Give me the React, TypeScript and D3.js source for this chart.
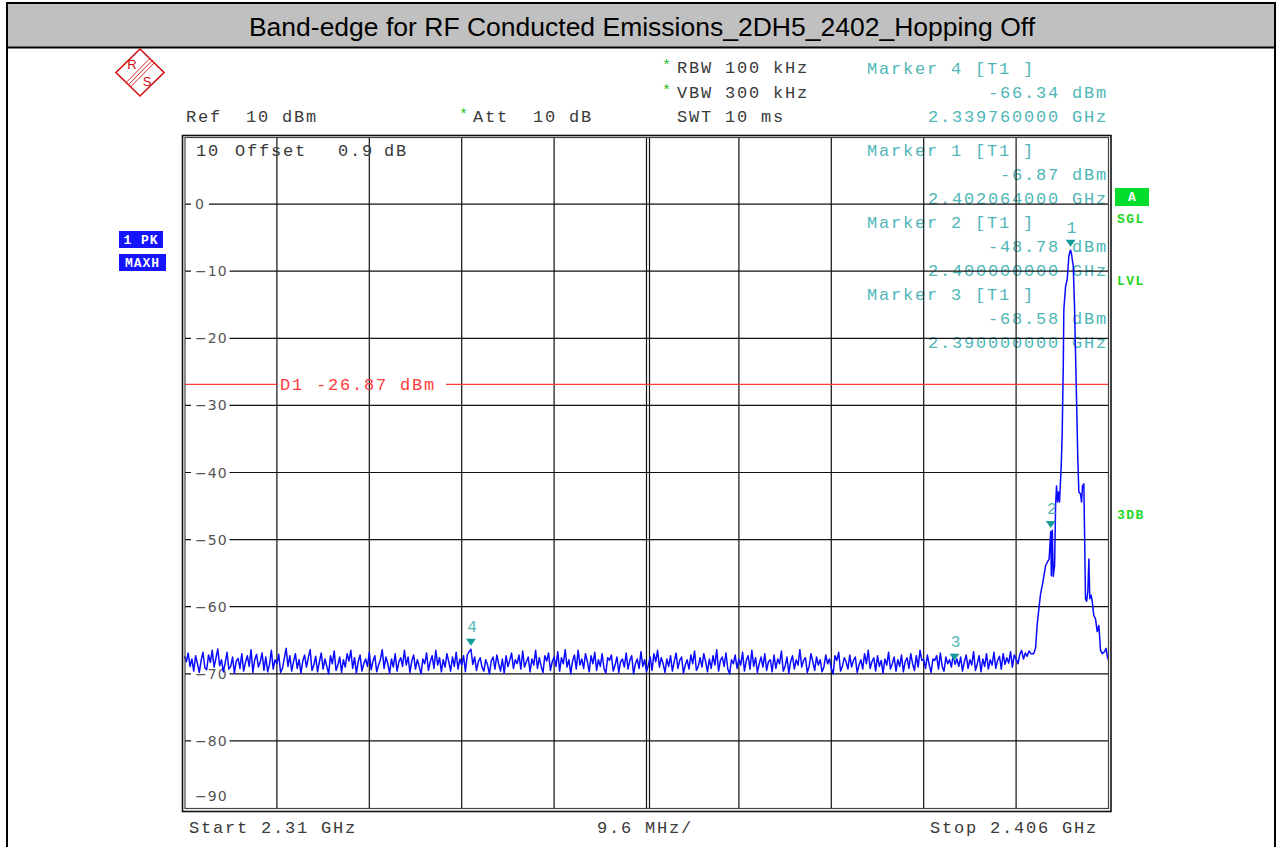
import React from 'react';
import * as d3 from 'd3';

// ---------- data ----------
const titleText = 'Band-edge for RF Conducted Emissions_2DH5_2402_Hopping Off';
const startMHz = 2310;
const stopMHz = 2406;
const divMHz = 9.6;
const refLevel = 10;
const bottomLevel = -90;
const levelTicks = [0, -10, -20, -30, -40, -50, -60, -70, -80];
const displayLine = -26.87;
const sweepStep = 0.192; // MHz between sweep points

// noise floor sweep points (dBm), from 2310 MHz
const noiseLevels = [
  -67.4,-68.2,-66.9,-68.9,-67.8,-69.6,-67.3,-68.5,-69.8,-68.0,-66.8,-69.1,-69.4,-67.2,-68.3,-66.5,-69.0,-67.7,-66.3,-68.8,
  -67.9,-69.7,-68.4,-66.8,-69.3,-68.9,-67.5,-69.9,-68.1,-67.7,-69.2,-67.0,-69.6,-68.3,-67.3,-68.9,-66.4,-69.8,-67.9,-67.1,
  -69.0,-68.2,-66.9,-69.5,-67.5,-69.7,-68.6,-66.5,-69.3,-67.9,-68.5,-67.1,-69.8,-69.2,-67.7,-66.2,-68.9,-67.3,-69.6,-68.2,
  -67.0,-69.2,-67.9,-69.9,-68.1,-67.2,-69.0,-67.6,-66.4,-69.5,-68.7,-67.4,-69.7,-68.2,-66.9,-69.3,-67.8,-68.9,-70.0,-67.3,
  -68.5,-66.6,-69.5,-68.7,-67.5,-69.8,-67.9,-69.0,-67.0,-68.1,-66.5,-69.2,-67.6,-69.9,-68.2,-67.2,-69.6,-68.5,-67.8,-68.9,
  -66.8,-69.4,-68.1,-67.3,-69.7,-68.7,-67.9,-66.4,-69.2,-67.5,-68.5,-69.9,-67.8,-69.0,-67.0,-69.6,-68.2,-67.6,-68.9,-66.5,
  -68.7,-67.5,-69.8,-68.1,-67.2,-69.3,-67.9,-68.9,-70.0,-67.8,-68.5,-66.9,-69.5,-68.2,-67.3,-69.2,-66.5,-68.7,-67.6,-69.7,
  -67.9,-69.0,-67.0,-68.2,-69.6,-67.5,-68.9,-66.8,-69.3,-67.8,-68.7,-67.3,-69.7,-67.2,-66.7,-66.34,-68.6,-67.5,-69.5,-68.2,
  -67.6,-69.0,-69.6,-67.9,-68.7,-70.0,-68.1,-67.5,-69.3,-67.2,-68.5,-69.6,-67.8,-69.9,-67.3,-68.9,-68.0,-66.9,-69.2,-67.9,
  -68.5,-67.2,-69.3,-66.6,-69.0,-68.2,-67.5,-69.7,-67.8,-68.7,-66.5,-69.2,-67.6,-68.9,-69.8,-67.3,-68.1,-66.9,-69.5,-68.2,
  -67.5,-68.9,-66.7,-69.6,-67.6,-68.5,-66.4,-69.0,-67.9,-70.0,-68.1,-67.2,-69.3,-66.5,-68.7,-67.8,-69.2,-67.0,-68.2,-69.7,
  -67.3,-68.5,-66.8,-69.5,-67.9,-68.9,-67.0,-69.2,-69.9,-67.6,-68.0,-67.2,-69.6,-68.7,-67.5,-69.8,-68.2,-67.8,-69.0,-66.9,
  -69.3,-68.0,-67.3,-70.0,-68.5,-67.8,-69.2,-66.7,-68.9,-67.9,-69.7,-68.7,-67.5,-69.5,-67.0,-68.2,-66.5,-69.0,-67.6,-68.5,
  -69.8,-67.8,-68.9,-67.3,-69.6,-68.2,-66.9,-69.2,-68.0,-67.5,-69.9,-68.7,-67.9,-69.3,-67.2,-68.5,-66.6,-69.5,-68.9,-67.6,
  -69.0,-67.0,-68.2,-69.7,-67.8,-69.2,-67.3,-68.7,-66.4,-69.6,-68.0,-67.5,-68.9,-66.9,-69.3,-70.0,-67.9,-68.5,-67.2,-69.2,
  -67.8,-68.7,-66.8,-69.6,-68.0,-67.3,-69.3,-66.5,-68.9,-67.6,-69.8,-68.5,-67.5,-69.0,-67.0,-69.5,-68.2,-67.9,-69.7,-67.2,
  -69.2,-67.8,-68.5,-66.6,-69.6,-68.9,-67.5,-69.9,-68.2,-67.3,-69.3,-67.9,-68.7,-66.4,-69.0,-68.0,-67.6,-69.8,-68.9,-67.0,
  -68.2,-69.5,-67.5,-68.7,-67.9,-69.7,-69.0,-67.2,-68.5,-67.8,-69.2,-70.0,-67.3,-68.0,-66.8,-69.6,-68.9,-67.6,-68.2,-69.3,
  -67.2,-69.0,-68.0,-67.5,-69.8,-68.7,-67.9,-69.3,-67.0,-68.5,-66.5,-69.2,-68.2,-67.6,-69.6,-67.3,-68.9,-68.0,-69.9,-67.8,
  -68.7,-66.8,-69.3,-68.5,-67.5,-69.6,-67.9,-68.9,-67.2,-69.7,-68.2,-67.6,-69.2,-67.0,-68.5,-69.5,-67.3,-69.0,-66.5,-68.0,
  -67.9,-69.2,-67.2,-68.7,-69.8,-67.8,-68.0,-67.3,-69.3,-66.9,-68.9,-69.6,-67.5,-68.5,-67.9,-69.0,-67.1,-68.58,-67.8,-68.9,
  -67.5,-69.6,-68.2,-67.2,-69.2,-67.9,-68.7,-66.7,-69.5,-68.5,-67.3,-69.7,-67.8,-68.9,-67.0,-69.3,-67.9,-68.7,-66.8,-69.2,
  -68.0,-67.4,-69.3,-67.0,-68.6,-67.6,-68.4,-66.7,-69.0,-67.2,-67.8,-68.5,-67.1,-66.5,-67.8,-66.9,-67.4,-66.6,-67.0,
];

// signal region [MHz, dBm]
const signalPoints: [number, number][] = [
  [2398.22, -67.0], [2398.42, -66.2], [2398.60, -62.5], [2398.94, -58.1], [2399.15, -56.6],
  [2399.46, -53.9], [2399.67, -53.3], [2399.83, -52.9], [2400.00, -48.78], [2400.06, -55.4],
  [2400.16, -48.6], [2400.26, -55.5], [2400.40, -53.9], [2400.50, -45.0], [2400.60, -42.0],
  [2400.71, -44.4], [2400.81, -42.9], [2400.91, -44.4], [2401.09, -39.0], [2401.19, -34.0],
  [2401.30, -24.2], [2401.36, -15.7], [2401.54, -12.3], [2401.71, -11.2], [2401.88, -7.8],
  [2401.98, -7.1], [2402.064, -6.87], [2402.16, -7.5], [2402.34, -9.3], [2402.47, -15.3],
  [2402.68, -29.1], [2402.81, -38.0], [2402.92, -42.9], [2403.09, -43.2], [2403.20, -44.4],
  [2403.30, -42.0], [2403.44, -41.7], [2403.51, -48.8], [2403.61, -58.8], [2403.72, -59.2],
  [2403.85, -57.8], [2403.96, -52.9], [2404.06, -58.8], [2404.20, -58.3], [2404.31, -59.2],
  [2404.47, -61.3], [2404.65, -61.8], [2404.83, -63.7], [2405.00, -62.8], [2405.17, -66.5],
  [2405.35, -67.0], [2405.59, -66.7], [2405.76, -66.2], [2405.86, -67.3], [2406.00, -68.0],
];

const markerNames = ['1', '2', '3', '4'];
const markerFreqs = [2402.064, 2400.0, 2390.0, 2339.76];
const markerLevels = [-6.87, -48.78, -68.58, -66.34];
const markerFreqText = ['2.402064000 GHz', '2.400000000 GHz', '2.390000000 GHz', '2.339760000 GHz'];
const markerLevelText = ['-6.87 dBm', '-48.78 dBm', '-68.58 dBm', '-66.34 dBm'];

// ---------- styling ----------
const MONO = "'Liberation Mono', 'DejaVu Sans Mono', monospace";
const SANS = "'DejaVu Sans', 'Liberation Sans', sans-serif";
const ADV = 12; // char advance of the instrument font
const TEAL_TXT = '#4fb7b7';
const TEAL_MK = '#179c9c';
const TXT = '#3a3a3a';

function Mono(props: { x: number; y: number; t: string; fill?: string; anchorEnd?: boolean }) {
  const { x, y, t, fill, anchorEnd } = props;
  const sx = anchorEnd ? x - t.length * ADV + 2 : x;
  return (
    <text x={sx} y={y} fontFamily={MONO} fontSize={17} letterSpacing={1.8} dominantBaseline="central"
      fill={fill || TXT} style={{ whiteSpace: 'pre' }} xmlSpace="preserve">{t}</text>
  );
}

export default function App() {
  const W = 1279, H = 847;
  const x = d3.scaleLinear().domain([startMHz, stopMHz]).range([184.5, 1108.5]);
  const y = d3.scaleLinear().domain([bottomLevel, refLevel]).range([808, 137]);

  const trace: [number, number][] = [
    ...noiseLevels.map((v, i) => [startMHz + i * sweepStep, v] as [number, number]),
    ...signalPoints,
  ];
  const line = d3.line<[number, number]>().x(d => x(d[0])).y(d => y(d[1]));

  const gridFreqs = d3.range(0, 11).map(k => startMHz + k * divMHz);
  const gridLevels = d3.range(refLevel, bottomLevel - 1, -10);
  const centerF = startMHz + 5 * divMHz;

  const minus = (v: number) => (v < 0 ? '\u2212' + Math.abs(v) : String(v));
  const labelW = (s: string) => s.split('').reduce((a, c) => a + (c === '\u2212' ? 11.7 : 8.9), 0) + 1;

  const dlY = y(displayLine);
  const values = markerNames.map((n, i) => ({ n, f: markerFreqs[i], l: markerLevels[i] }));

  // marker text blocks: marker 4 at top, then 1,2,3
  const blockOrder = [3, 0, 1, 2];
  const blockY = [69, 151, 223, 295];

  return (
    <svg width={W} height={H} style={{ position: 'absolute', left: 0, top: 0, background: '#fff' }}>
      <rect x={0} y={0} width={W} height={H} fill="#fff" />
      {/* title bar */}
      <rect x={7} y={3.5} width={1268} height={43.5} fill="#c0c0c0" />
      <line x1={6} x2={1276} y1={3} y2={3} stroke="#000" strokeWidth={2} />
      <line x1={6} x2={1276} y1={47.5} y2={47.5} stroke="#000" strokeWidth={2} />
      <line x1={7} x2={7} y1={2} y2={H} stroke="#000" strokeWidth={2} />
      <line x1={1275} x2={1275} y1={2} y2={H} stroke="#000" strokeWidth={2} />
      <text x={642} y={27} textAnchor="middle" dominantBaseline="central" fontFamily="'Liberation Sans', Arial, sans-serif"
        fontSize={26.5} fill="#000">{titleText}</text>

      {/* R&S logo */}
      <g stroke="#d01010" fill="none" strokeWidth={1.6}>
        <path d="M140,49 L164,72.5 L140,96 L116,72.5 Z" />
        <line x1={149.8} y1={58.5} x2={126.2} y2={82.5} strokeWidth={0.9} />
        <line x1={152} y1={60.7} x2={128.4} y2={84.7} strokeWidth={0.9} />
        <line x1={154.2} y1={62.9} x2={130.6} y2={86.9} strokeWidth={0.9} />
      </g>
      <text x={132} y={64} textAnchor="middle" dominantBaseline="central" fontFamily="'Liberation Sans', sans-serif" fontSize={13} fill="#d01010">R</text>
      <text x={147} y={81} textAnchor="middle" dominantBaseline="central" fontFamily="'Liberation Sans', sans-serif" fontSize={13} fill="#d01010">S</text>

      {/* header settings */}
      <text x={662} y={66} fontFamily={MONO} fontSize={15} fill="#22c022" dominantBaseline="central">*</text>
      <text x={662} y={91} fontFamily={MONO} fontSize={15} fill="#22c022" dominantBaseline="central">*</text>
      <text x={459} y={115} fontFamily={MONO} fontSize={15} fill="#22c022" dominantBaseline="central">*</text>
      <Mono x={677} y={68} t="RBW 100 kHz" />
      <Mono x={677} y={93} t="VBW 300 kHz" />
      <Mono x={677} y={117} t="SWT 10 ms" />
      <Mono x={186} y={117} t="Ref  10 dBm" />
      <Mono x={473} y={117} t="Att  10 dB" />

      {/* marker info blocks */}
      {blockOrder.map((mi, k) => (
        <g key={'mb' + k}>
          <Mono x={867} y={blockY[k]} t={`Marker ${markerNames[mi]} [T1 ]`} fill={TEAL_TXT} />
          <Mono x={1106} y={blockY[k] + 24} t={markerLevelText[mi]} fill={TEAL_TXT} anchorEnd />
          <Mono x={1106} y={blockY[k] + 48} t={markerFreqText[mi]} fill={TEAL_TXT} anchorEnd />
        </g>
      ))}

      {/* plot grid */}
      <g stroke="#111" strokeWidth={1.2}>
        {gridFreqs.slice(1, -1).map(f => (
          <line key={'v' + f} x1={x(f)} x2={x(f)} y1={137} y2={808} />
        ))}
        <line x1={x(centerF) + 3} x2={x(centerF) + 3} y1={137} y2={808} />
        {gridLevels.slice(1, -1).map(l => (
          <line key={'h' + l} x1={185} x2={1108} y1={y(l)} y2={y(l)} />
        ))}
      </g>

      {/* tick labels with gaps in grid */}
      {levelTicks.map(l => {
        const s = minus(l);
        return (
          <g key={'t' + l}>
            <rect x={191} y={y(l) - 7} width={labelW(s) + 8} height={14} fill="#fff" />
            <text x={195} y={y(l)} fontFamily={SANS} fontSize={14} fill="#555" dominantBaseline="central" letterSpacing={1}>{s}</text>
          </g>
        );
      })}
      <text x={195} y={796} fontFamily={SANS} fontSize={14} fill="#555" dominantBaseline="central" letterSpacing={1}>{minus(-90)}</text>
      <Mono x={196} y={151} t="10" />
      <Mono x={235} y={151} t="Offset" />
      <Mono x={338} y={151} t="0.9" />
      <Mono x={384} y={151} t="dB" />

      {/* display line */}
      <line x1={185} x2={278} y1={dlY} y2={dlY} stroke="#ff3b3b" strokeWidth={1.3} />
      <line x1={446} x2={1108} y1={dlY} y2={dlY} stroke="#ff3b3b" strokeWidth={1.3} />
      <Mono x={280} y={dlY + 1} t="D1 -26.87 dBm" fill="#ff3b3b" />

      {/* trace */}
      <path d={line(trace) || ''} fill="none" stroke="#0a0aff" strokeWidth={1.5} strokeLinejoin="round" />

      {/* markers */}
      {values.map(m => {
        const mx = x(m.f), my = y(m.l);
        return (
          <g key={'m' + m.n}>
            <path d={`M${mx - 5},${my - 10.5} L${mx + 5},${my - 10.5} L${mx},${my - 3.5} Z`} fill={TEAL_MK} />
            <text x={mx + 1} y={my - 21} textAnchor="middle" dominantBaseline="central" fontFamily={MONO} fontSize={16} fill={TEAL_TXT}>{m.n}</text>
          </g>
        );
      })}

      {/* frame */}
      <rect x={182.5} y={135.5} width={928.5} height={676} fill="none" stroke="#111" strokeWidth={1.6} />
      <rect x={185} y={137.5} width={923.5} height={671} fill="none" stroke="#444" strokeWidth={1.2} />

      {/* left/right annotations */}
      <rect x={119} y={231} width={44} height={17} fill="#1414ff" />
      <text x={141} y={240} textAnchor="middle" dominantBaseline="central" fontFamily={MONO} fontWeight="bold" fontSize={13} fill="#fff" letterSpacing={1} style={{ whiteSpace: 'pre' }}>1 PK</text>
      <rect x={119} y={254} width={47} height={17} fill="#1414ff" />
      <text x={142.5} y={263} textAnchor="middle" dominantBaseline="central" fontFamily={MONO} fontWeight="bold" fontSize={13} fill="#fff" letterSpacing={1}>MAXH</text>

      <rect x={1115} y={188} width={34} height={18} fill="#00dd2a" />
      <text x={1132} y={197.5} textAnchor="middle" dominantBaseline="central" fontFamily={MONO} fontWeight="bold" fontSize={13} fill="#fff">A</text>
      <text x={1117} y={219} dominantBaseline="central" fontFamily={MONO} fontWeight="bold" fontSize={13} fill="#1fd51f" letterSpacing={1.5}>SGL</text>
      <text x={1117} y={281} dominantBaseline="central" fontFamily={MONO} fontWeight="bold" fontSize={13} fill="#1fd51f" letterSpacing={1.5}>LVL</text>
      <text x={1117} y={515} dominantBaseline="central" fontFamily={MONO} fontWeight="bold" fontSize={13} fill="#1fd51f" letterSpacing={1.5}>3DB</text>

      {/* bottom labels */}
      <Mono x={189} y={828} t="Start 2.31 GHz" />
      <Mono x={597} y={828} t="9.6 MHz/" />
      <Mono x={930} y={828} t="Stop 2.406 GHz" />
    </svg>
  );
}
